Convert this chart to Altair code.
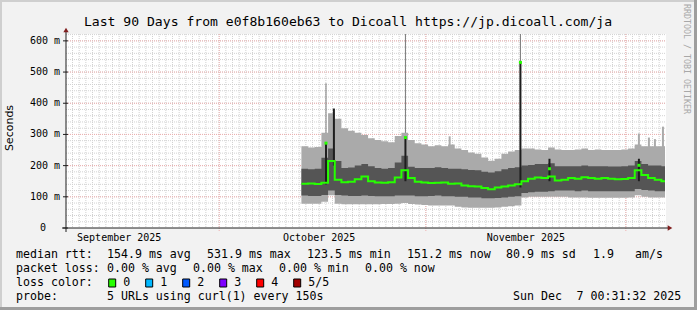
import altair as alt
import pandas as pd

# ---------------- content / data ----------------
TITLE = "Last 90 Days from e0f8b160eb63 to Dicoall https://jp.dicoall.com/ja"
Y_AXIS_TITLE = "Seconds"
SIDE_TEXT = "RRDTOOL / TOBI OETIKER"

RANGE_START = dict(year=2025, month=9, date=8, hours=0, minutes=31, seconds=32)
RANGE_END = dict(year=2025, month=12, date=7, hours=0, minutes=31, seconds=32)
Y_MAX = 622

Y_TICKS = [100, 200, 300, 400, 500, 600]
Y_TICK_LABELS = ["100 m", "200 m", "300 m", "400 m", "500 m", "600 m"]
MONTH_LABEL_DATES = ["2025-09-16T00:00:00", "2025-10-16T00:00:00", "2025-11-16T00:00:00"]
MONTH_LABELS = ["September 2025", "October 2025", "November 2025"]
MONTH_STARTS = ["2025-10-01T00:00:00", "2025-11-01T00:00:00", "2025-12-01T00:00:00"]

SMOKE_START = "2025-10-13T08:00:00"   # one column per day from here
SMOKE_END = "2025-12-06T21:00:00"

light_top = [262, 258, 260, 305, 368, 350, 320, 312, 305, 298, 288, 282, 278, 275, 295, 305,
             282, 272, 268, 262, 265, 262, 268, 255, 250, 242, 238, 226, 216, 222, 238, 245,
             250, 255, 255, 252, 250, 258, 252, 250, 250, 252, 255, 250, 252, 250, 250, 250,
             252, 255, 268, 262, 262, 262, 262]
dark_top = [190, 188, 190, 225, 255, 215, 192, 194, 200, 205, 198, 192, 190, 192, 210, 232,
            196, 192, 192, 192, 195, 192, 190, 190, 188, 186, 185, 180, 178, 182, 188, 192,
            195, 200, 202, 205, 205, 208, 198, 198, 198, 198, 200, 198, 198, 198, 197, 197,
            198, 200, 215, 205, 200, 200, 198]
median = [142, 143, 141, 145, 215, 155, 147, 148, 156, 165, 150, 146, 145, 147, 162, 185,
          160, 148, 146, 144, 145, 146, 142, 143, 136, 134, 133, 128, 124, 130, 133, 136,
          140, 150, 158, 162, 160, 165, 152, 155, 160, 158, 163, 160, 158, 160, 158, 156,
          157, 160, 185, 170, 160, 155, 150]
dark_bottom = [104, 103, 103, 106, 120, 106, 104, 103, 103, 104, 103, 102, 102, 102, 104, 104,
               104, 102, 102, 103, 104, 102, 102, 100, 100, 98, 98, 95, 95, 96, 98, 100,
               102, 112, 115, 116, 116, 118, 120, 120, 120, 118, 120, 118, 118, 118, 118, 118,
               118, 118, 125, 122, 120, 118, 118]
light_bottom = [78, 78, 78, 84, 105, 78, 76, 76, 76, 76, 76, 76, 77, 77, 78, 80,
                77, 75, 74, 72, 72, 72, 72, 68, 66, 65, 65, 65, 65, 66, 68, 70,
                72, 98, 100, 100, 100, 100, 100, 100, 98, 98, 98, 97, 97, 97, 97, 97,
                97, 98, 105, 100, 98, 98, 98]

# single-sample spikes
tall_spike_times = ["2025-10-17T00:30:00", "2025-10-28T22:30:00", "2025-11-15T04:30:00"]
tall_spike_tops = [464, 622, 622]
short_spike_times = ["2025-11-04T13:40:00", "2025-12-02T23:00:00", "2025-12-04T11:00:00",
                     "2025-12-05T08:40:00", "2025-12-06T13:30:00"]
short_spike_tops = [294, 303, 290, 285, 325]
dark_spike_times = ["2025-10-17T00:30:00", "2025-10-18T05:00:00", "2025-10-28T22:30:00",
                    "2025-11-15T04:30:00", "2025-11-19T13:00:00", "2025-12-02T23:00:00"]
dark_spike_low = [140, 200, 150, 130, 150, 150]
dark_spike_high = [272, 383, 290, 531, 222, 222]
median_peak_times = ["2025-10-17T00:30:00", "2025-10-28T22:30:00", "2025-11-15T04:30:00",
                     "2025-11-19T13:00:00", "2025-12-02T23:00:00"]
median_peak_values = [272, 290, 531, 190, 201]

LEGEND_LINES = [
    ["median rtt:", "154.9 ms avg", "531.9 ms max", "123.5 ms min", "151.2 ms now",
     "80.9 ms sd", "1.9", "am/s"],
    ["packet loss:", "0.00 % avg", "0.00 % max", "0.00 % min", "0.00 % now"],
    ["probe:", "5 URLs using curl(1) every 150s", "Sun Dec", "7 00:31:32 2025"],
]
LOSS_TITLE = "loss color:"
LOSS_LABELS = ["0", "1", "2", "3", "4", "5/5"]
LOSS_COLORS = ["#26ff00", "#00b8ff", "#0059ff", "#7e00ff", "#ff0000", "#a10000"]

# ---------------- layout / style ----------------
LEGEND_X = [[16, 107, 207, 307, 407, 506, 593, 635],
            [16, 107, 193, 279, 365],
            [16, 107, 513, 576.5]]
LEGEND_BASE = [258.3, 272.3, 300.3]
LOSS_BASE = 286.3
LOSS_BOX_X = [108.7, 145.7, 182.7, 219.7, 256.7, 293.7]

MONO = "DejaVu Sans Mono"
SANS = "DejaVu Sans"
OX, OY, W, H = 66, 34, 600, 194
BACK = "#f2f2f2"
GRID_MINOR = "#d2d2d2"
GRID_MAJOR = "#eeb0b0"
AXIS = "#1f1f1f"
ARROW = "#801f1f"
LIGHT = "#aaaaaa"
DARK = "#555555"
GREEN = "#26ff00"


def rx(x):
    return x - OX


def ry(y):
    return y - OY


ONE = pd.DataFrame({"k": [0]})
XS = alt.Scale(domain=[alt.DateTime(**RANGE_START), alt.DateTime(**RANGE_END)], nice=False)
YS = alt.Scale(domain=[0, Y_MAX], nice=False, zero=False)


def X(f):
    return alt.X(f, type="temporal", scale=XS, axis=None)


def Y(f):
    return alt.Y(f, type="quantitative", scale=YS, axis=None)


def text(s, x, y, size=11.6, align="left", baseline="alphabetic", font=MONO,
         color="#000000", angle=None):
    kw = dict(text=s, align=align, baseline=baseline, font=font, fontSize=size, color=color)
    if angle is not None:
        kw["angle"] = angle
    return alt.Chart(ONE).mark_text(**kw).encode(x=alt.value(rx(x)), y=alt.value(ry(y)))


def box(x0, y0, x1, y1, color, stroke=None):
    kw = dict(color=color)
    if stroke:
        kw.update(stroke=stroke, strokeWidth=1)
    return alt.Chart(ONE).mark_rect(**kw).encode(
        x=alt.value(rx(x0)), x2=alt.value(rx(x1)), y=alt.value(ry(y0)), y2=alt.value(ry(y1)))


def ext(a):
    return list(a) + [a[-1]]


starts = list(pd.date_range(SMOKE_START, periods=len(median), freq="D"))
times = starts + [pd.Timestamp(SMOKE_END)]
smoke = pd.DataFrame({"t": times, "lt": ext(light_top), "dt": ext(dark_top),
                      "m": ext(median), "db": ext(dark_bottom), "lb": ext(light_bottom)})

layers = []

# grid
h_minor = pd.DataFrame({"v": list(range(20, Y_MAX, 20))})
day_lines = pd.DataFrame({"t": list(pd.date_range("2025-09-09", "2025-12-06", freq="D"))})
layers.append(alt.Chart(h_minor).mark_rule(color=GRID_MINOR, strokeDash=[1, 1], strokeWidth=1)
              .encode(y=Y("v"), x=alt.value(0), x2=alt.value(W)))
layers.append(alt.Chart(day_lines).mark_rule(color=GRID_MINOR, strokeDash=[1, 1], strokeWidth=1)
              .encode(x=X("t"), y=alt.value(0), y2=alt.value(H)))
layers.append(alt.Chart(pd.DataFrame({"v": Y_TICKS})).mark_rule(color=GRID_MAJOR, strokeDash=[1, 1], strokeWidth=1)
              .encode(y=Y("v"), x=alt.value(0), x2=alt.value(W)))
layers.append(alt.Chart(pd.DataFrame({"t": MONTH_STARTS})).mark_rule(color=GRID_MAJOR, strokeDash=[1, 1], strokeWidth=1)
              .encode(x=X("t"), y=alt.value(0), y2=alt.value(H + 3)))

# spikes behind smoke
layers.append(alt.Chart(pd.DataFrame({"t": tall_spike_times, "hi": tall_spike_tops, "lo": [200] * 3}))
              .mark_rule(color="#7a7a7a", strokeWidth=1)
              .encode(x=X("t"), y=Y("lo"), y2=alt.Y2("hi")))
layers.append(alt.Chart(pd.DataFrame({"t": short_spike_times, "hi": short_spike_tops,
                                      "lo": [200] * len(short_spike_tops)}))
              .mark_rule(color=LIGHT, strokeWidth=2)
              .encode(x=X("t"), y=Y("lo"), y2=alt.Y2("hi")))

# smoke
layers.append(alt.Chart(smoke).mark_area(interpolate="step-after", color=LIGHT)
              .encode(x=X("t"), y=Y("lb"), y2=alt.Y2("lt")))
layers.append(alt.Chart(smoke).mark_area(interpolate="step-after", color=DARK)
              .encode(x=X("t"), y=Y("db"), y2=alt.Y2("dt")))
layers.append(alt.Chart(pd.DataFrame({"t": dark_spike_times, "lo": dark_spike_low, "hi": dark_spike_high}))
              .mark_rule(color="#1e1e1e", strokeWidth=2)
              .encode(x=X("t"), y=Y("lo"), y2=alt.Y2("hi")))

# median
layers.append(alt.Chart(smoke).mark_line(interpolate="step-after", color=GREEN, strokeWidth=2)
              .encode(x=X("t"), y=Y("m")))
layers.append(alt.Chart(pd.DataFrame({"t": median_peak_times, "v": median_peak_values}))
              .mark_square(color=GREEN, size=9, opacity=1)
              .encode(x=X("t"), y=Y("v")))

# axes
layers.append(alt.Chart(ONE).mark_rule(color=AXIS, strokeWidth=1)
              .encode(x=alt.value(rx(62)), x2=alt.value(rx(668)), y=alt.value(H)))
layers.append(alt.Chart(ONE).mark_rule(color=AXIS, strokeWidth=1)
              .encode(x=alt.value(0), y=alt.value(ry(232)), y2=alt.value(ry(31))))
layers.append(alt.Chart(pd.DataFrame({"v": [0] + Y_TICKS})).mark_rule(color=AXIS, strokeWidth=1)
              .encode(y=Y("v"), x=alt.value(-3), x2=alt.value(2)))
layers.append(alt.Chart(ONE).mark_point(shape="triangle-right", filled=True, color=ARROW, size=28, opacity=1)
              .encode(x=alt.value(rx(670)), y=alt.value(H)))
layers.append(alt.Chart(ONE).mark_point(shape="triangle-up", filled=True, color=ARROW, size=28, opacity=1)
              .encode(x=alt.value(0), y=alt.value(ry(30))))

# tick labels
layers.append(alt.Chart(pd.DataFrame({"v": Y_TICKS, "s": Y_TICK_LABELS}))
              .mark_text(font=MONO, fontSize=10, align="right", baseline="middle", color="#000000")
              .encode(y=Y("v"), x=alt.value(rx(60)), text="s:N"))
layers.append(alt.Chart(pd.DataFrame({"v": [0], "s": ["0"]}))
              .mark_text(font=MONO, fontSize=10, align="right", baseline="middle", color="#000000")
              .encode(y=Y("v"), x=alt.value(rx(46)), text="s:N"))
layers.append(alt.Chart(pd.DataFrame({"t": MONTH_LABEL_DATES, "s": MONTH_LABELS}))
              .mark_text(font=MONO, fontSize=10, align="center", baseline="alphabetic", color="#000000")
              .encode(x=X("t"), y=alt.value(ry(241.3)), text="s:N"))

# titles
layers.append(text(TITLE, 348, 25.5, size=13.1, align="center"))
layers.append(text(Y_AXIS_TITLE, 10, 128, size=11, align="center", baseline="middle", font=SANS, angle=270))
layers.append(text(SIDE_TEXT, 686, 4, size=8.3, align="left", baseline="middle", color="#a8a8a8", angle=90))

# legend
for tokens, xs, base in zip(LEGEND_LINES, LEGEND_X, LEGEND_BASE):
    for tok, x in zip(tokens, xs):
        layers.append(text(tok, x, base))
layers.append(text(LOSS_TITLE, 16, LOSS_BASE))
for lab, col, bx in zip(LOSS_LABELS, LOSS_COLORS, LOSS_BOX_X):
    layers.append(box(bx, 279, bx + 7, 287, col, stroke="#000000"))
    layers.append(text(lab, bx + 14.6, LOSS_BASE))

# frame shading
layers.append(box(0, 0, 697, 2, "#cfcfcf"))
layers.append(box(0, 0, 2, 310, "#cfcfcf"))
layers.append(box(694, 0, 697, 310, "#9e9e9e"))
layers.append(box(0, 307, 697, 310, "#9e9e9e"))

chart = (alt.layer(*layers)
         .properties(width=W, height=H, background=BACK,
                     padding={"left": OX, "top": OY, "right": 697 - OX - W, "bottom": 310 - OY - H},
                     autosize=alt.AutoSizeParams(type="none"))
         .configure_view(stroke=None, fill="#ffffff"))

chart.save("out.html", embed_options={"renderer": "svg", "actions": False})
